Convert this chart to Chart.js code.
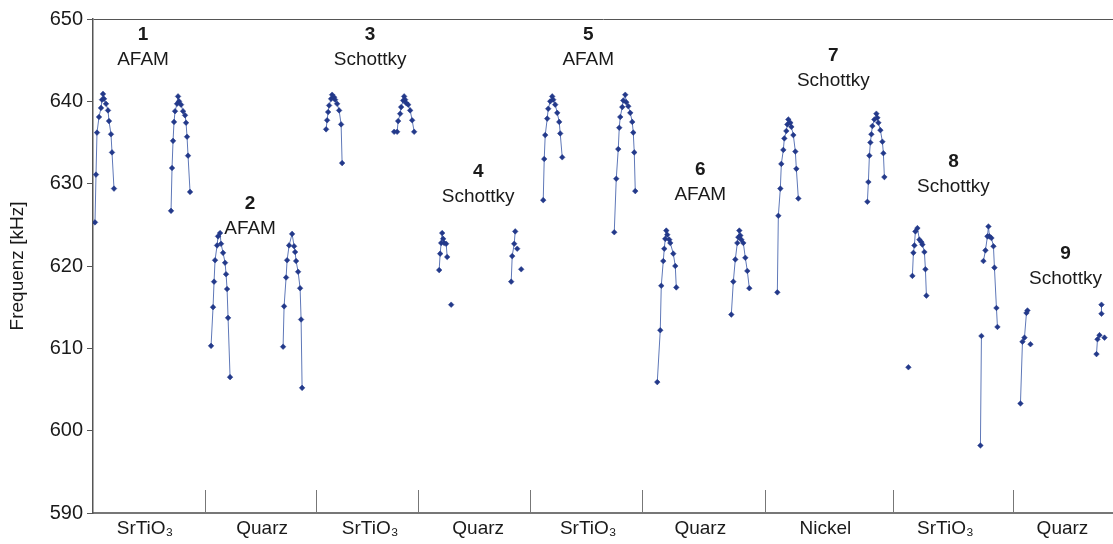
<!DOCTYPE html>
<html>
<head>
<meta charset="utf-8">
<script src="https://cdn.jsdelivr.net/npm/chart.js@4/dist/chart.umd.min.js"></script>
<style>
  html, body { margin: 0; padding: 0; background: #fff; overflow: hidden; }
  #wrap { width: 1113px; height: 544px; position: relative; overflow: hidden; }
</style>
</head>
<body>
<div id="wrap"><canvas id="c" width="1118" height="544"></canvas></div>
<script>
// Frequency sweeps: [position along the sample series, resonance frequency in kHz]
// null marks a break in the measured trace.
const sweep1a = [[2,625.3],[3,631.1],[4,636.2],[6,638.1],[8,639.2],[9,640.2],[10,640.9],[11,640.3],[13,639.7],[15,638.9],[16,637.6],[18,636.0],[19,633.8],[21,629.4]];
const sweep1b = [[78,626.7],[79,631.9],[80,635.2],[81,637.5],[82,638.8],[84,639.7],[85,640.6],[86,640.0],[88,639.6],[90,638.8],[92,638.3],[93,637.4],[94,635.7],[95,633.4],[97,629.0]];
const sweep2a = [[118,610.3],[120,615.0],[121,618.1],[122,620.7],[124,622.5],[125,623.6],[127,624.0],[128,622.7],[130,621.6],[132,620.4],[133,619.0],[134,617.2],[135,613.7],[137,606.5]];
const sweep2b = [[190,610.2],[191,615.1],[193,618.6],[194,620.7],[196,622.5],[199,623.9],[201,622.4],[202,621.7],[203,620.6],[205,619.3],[207,617.3],[208,613.5],[209,605.2]];
const sweep3a = [[233,636.6],[234,637.7],[235,638.7],[236,639.5],[238,640.3],[239,640.8],[241,640.5],[242,640.2],[244,639.7],[246,638.9],[248,637.2],[249,632.5]];
const sweep3b = [[301,636.3],[304,636.3],[305,637.6],[307,638.5],[308,639.3],[310,640.1],[311,640.6],[312,640.2],[313,639.8],[315,639.6],[317,638.9],[319,637.7],[321,636.3]];
const sweep4a = [[346,619.5],[347,621.5],[348,622.8],[349,624.0],[350,623.3],[351,622.8],[353,622.7],[354,621.1],[356,null],[358,615.3]];
const sweep4b = [[418,618.1],[419,621.2],[421,622.7],[422,624.2],[423,null],[424,622.1],[426,null],[428,619.6]];
const sweep5a = [[450,628.0],[451,633.0],[452,635.9],[454,637.9],[455,639.1],[457,640.0],[459,640.6],[460,640.2],[462,639.6],[464,638.6],[466,637.5],[467,636.1],[469,633.2]];
const sweep5b = [[521,624.1],[523,630.6],[525,634.2],[526,636.8],[527,638.1],[529,639.3],[530,640.1],[532,640.8],[533,639.9],[535,639.4],[537,638.6],[539,637.5],[540,636.2],[541,633.8],[542,629.1]];
const sweep6a = [[564,605.9],[567,612.2],[568,617.6],[570,620.6],[571,622.1],[572,623.3],[573,624.3],[574,623.8],[576,623.2],[577,622.8],[580,621.5],[582,620.0],[583,617.4]];
const sweep6b = [[638,614.1],[640,618.1],[642,620.8],[644,622.8],[645,623.5],[646,624.3],[647,623.7],[648,623.2],[650,622.8],[652,621.0],[654,619.4],[656,617.3]];
const sweep7a = [[684,616.8],[685,626.1],[687,629.4],[688,632.4],[690,634.1],[691,635.5],[693,636.4],[694,637.2],[695,637.8],[697,637.4],[698,636.9],[700,635.9],[702,633.9],[703,631.8],[705,628.2]];
const sweep7b = [[774,627.8],[775,630.2],[776,633.4],[777,635.0],[778,636.0],[779,637.0],[781,637.8],[783,638.5],[784,638.0],[785,637.4],[787,636.5],[789,635.1],[790,633.7],[791,630.8]];
const sweep8a = [[815,607.7],[816,null],[819,618.8],[820,621.6],[821,622.5],[822,624.2],[824,624.6],[826,623.2],[828,622.9],[829,622.6],[831,621.7],[832,619.6],[833,616.4]];
const sweep8b = [[887,598.2],[888,611.5],[889,null],[890,620.6],[892,621.9],[894,623.6],[895,624.8],[896,623.6],[898,623.4],[900,622.4],[901,619.8],[903,614.9],[904,612.6]];
const sweep9a = [[927,603.3],[929,610.8],[931,611.3],[933,614.3],[934,614.6],[935,null],[937,610.5]];
const sweep9b = [[1003,609.3],[1004,611.1],[1006,611.6],[1007,null],[1008,615.3],[1008,614.2],[1009,null],[1011,611.3]];

const sweeps = [sweep1a, sweep1b, sweep2a, sweep2b, sweep3a, sweep3b, sweep4a, sweep4b, sweep5a,
                sweep5b, sweep6a, sweep6b, sweep7a, sweep7b, sweep8a, sweep8b, sweep9a, sweep9b];

// Sample materials along the x axis
const materials = ['SrTiO₃', 'Quarz', 'SrTiO₃', 'Quarz', 'SrTiO₃', 'Quarz', 'Nickel', 'SrTiO₃', 'Quarz'];
const materialCenters = [52, 169, 277, 385, 495, 607, 732, 852, 969];
const materialBounds = [112, 223, 325, 437, 549, 672, 800, 920];

// Measurement numbers and modes
const runNumbers = ['1', '2', '3', '4', '5', '6', '7', '8', '9'];
const runModes = ['AFAM', 'AFAM', 'Schottky', 'Schottky', 'AFAM', 'AFAM', 'Schottky', 'Schottky', 'Schottky'];
const runX = [50, 157, 277, 385, 495, 607, 740, 860, 972];
const runModeY = [645.0, 624.5, 645.0, 628.4, 645.0, 628.7, 642.5, 629.6, 618.5];

// y axis range and ticks (kHz)
const yMin = 590, yMax = 650, yStep = 10;

const FONT = "'Liberation Sans', Arial, Helvetica, sans-serif";
const LINE = '#5f78b8';
const MARK = '#23398a';
const AXIS = '#555555';

const decorations = {
  id: 'decorations',
  afterDatasetsDraw(chart) {
    const { ctx, scales: { x, y }, chartArea } = chart;
    ctx.save();
    // material separators rising from the x axis
    ctx.strokeStyle = '#777';
    ctx.lineWidth = 1;
    materialBounds.forEach(v => {
      const px = Math.round(x.getPixelForValue(v)) + 0.5;
      ctx.beginPath();
      ctx.moveTo(px, chartArea.bottom);
      ctx.lineTo(px, chartArea.bottom - 23);
      ctx.stroke();
    });
    // run labels
    ctx.fillStyle = '#1a1a1a';
    ctx.textAlign = 'center';
    ctx.textBaseline = 'middle';
    runX.forEach((v, i) => {
      const px = x.getPixelForValue(v);
      const py = y.getPixelForValue(runModeY[i]);
      ctx.font = 'bold 19px ' + FONT;
      ctx.fillText(runNumbers[i], px, py - 25);
      ctx.font = '19px ' + FONT;
      ctx.fillText(runModes[i], px, py);
    });
    ctx.restore();
  }
};

new Chart(document.getElementById('c'), {
  type: 'scatter',
  data: {
    datasets: sweeps.map(s => ({
      data: s.map(p => ({ x: p[0], y: p[1] })),
      showLine: true,
      spanGaps: false,
      borderColor: LINE,
      borderWidth: 1,
      pointStyle: 'rectRot',
      pointRadius: 2.8,
      pointBackgroundColor: MARK,
      pointBorderColor: MARK,
      pointBorderWidth: 0.5,
      tension: 0
    }))
  },
  options: {
    responsive: false,
    animation: false,
    devicePixelRatio: 1,
    layout: { padding: { top: 19, right: 0, bottom: 0, left: 0 } },
    plugins: { legend: { display: false }, tooltip: { enabled: false } },
    scales: {
      x: {
        type: 'linear',
        min: 0,
        max: 1020,
        afterFit: s => { s.height = 31; s.paddingRight = 0; s.paddingLeft = 0; },
        afterBuildTicks: s => { s.ticks = materialCenters.map(v => ({ value: v })); },
        ticks: {
          autoSkip: false,
          maxRotation: 0,
          padding: 4,
          color: '#1a1a1a',
          font: { family: FONT, size: 19 },
          callback: (v, i) => materials[i]
        },
        grid: { display: false, drawTicks: false },
        border: { color: '#777', width: 2 }
      },
      y: {
        min: yMin,
        max: yMax,
        afterFit: s => { s.width = 93; },
        ticks: {
          stepSize: yStep,
          padding: 4,
          color: '#1a1a1a',
          font: { family: FONT, size: 20 }
        },
        grid: {
          drawOnChartArea: true,
          color: c => (c.tick && c.tick.value === yMax) ? AXIS : 'rgba(0,0,0,0)',
          tickColor: AXIS,
          tickLength: 6,
          lineWidth: 1
        },
        border: { color: AXIS, width: 1.5 },
        title: {
          display: true,
          text: 'Frequenz [kHz]',
          color: '#1a1a1a',
          font: { family: FONT, size: 19 },
          padding: { top: 6, bottom: 4 }
        }
      }
    }
  },
  plugins: [decorations]
});
</script>
</body>
</html>
